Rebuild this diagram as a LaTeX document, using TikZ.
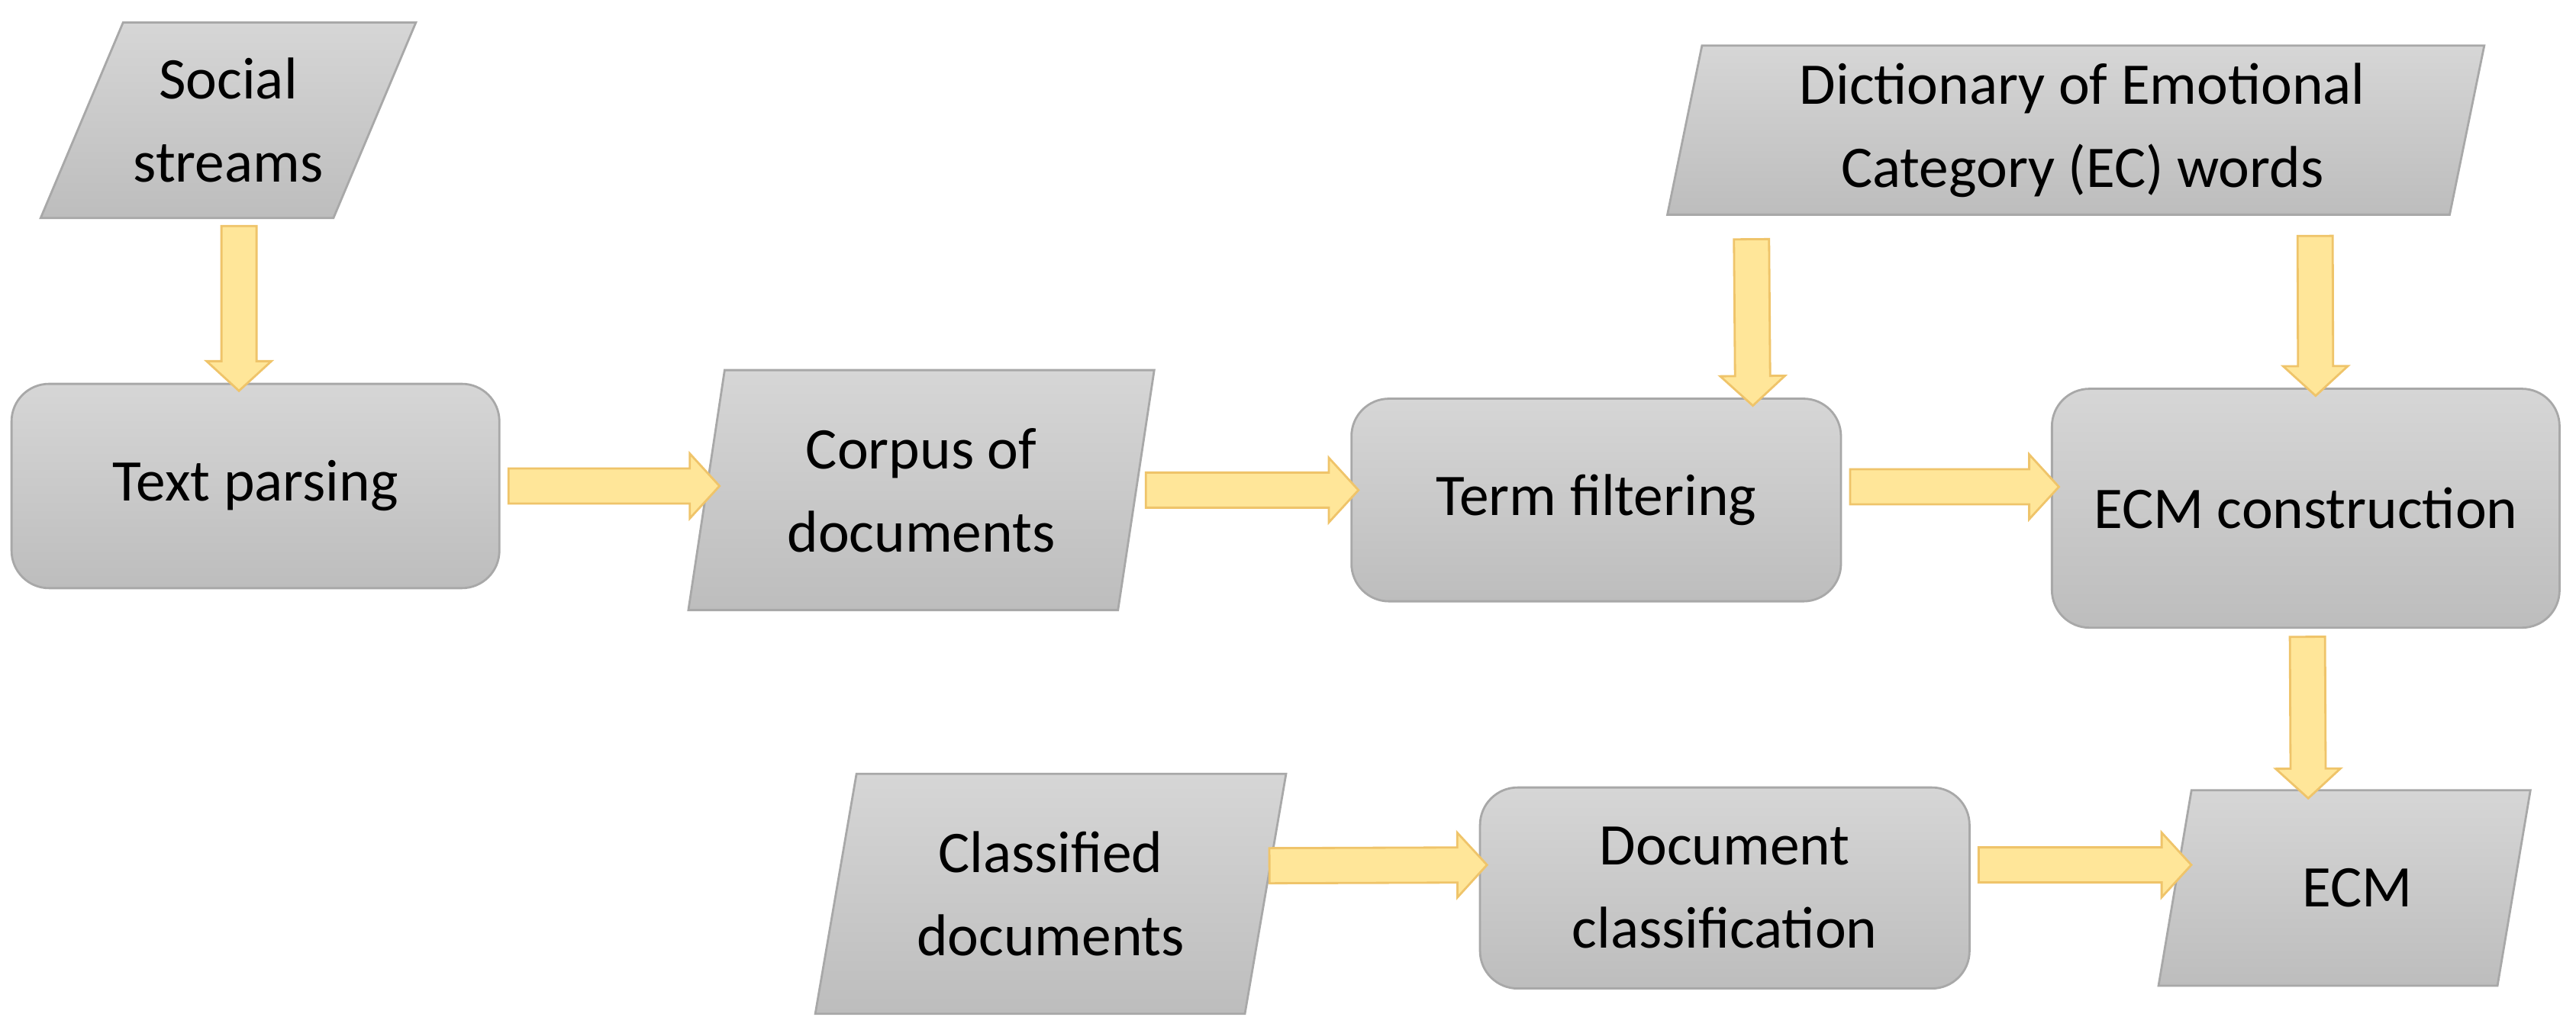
\documentclass[tikz,border=0pt]{standalone}
\usepackage{fontspec}
\setmainfont{Carlito}
\usetikzlibrary{calc,shapes.arrows}
\definecolor{gtop}{HTML}{D6D6D6}
\definecolor{gbot}{HTML}{BDBDBD}
\definecolor{gline}{HTML}{A8A8A8}
\definecolor{afill}{HTML}{FFE699}
\definecolor{aline}{HTML}{EFC46A}
\tikzset{
  box/.style={rounded corners=14pt, top color=gtop, bottom color=gbot, draw=gline, line width=0.8pt,
    align=center, font=\fontsize{22}{31}\selectfont, inner sep=0pt},
  lbl/.style={align=center, font=\fontsize{22}{31}\selectfont, inner sep=0pt},
  para/.style={top color=gtop, bottom color=gbot, draw=gline, line width=0.8pt},
  fatarr/.style={single arrow, fill=afill, draw=aline, line width=0.8pt, inner xsep=0pt,
    inner ysep=0.216cm, minimum width=0.82cm, single arrow head extend=0.194cm,
    single arrow tip angle=95, anchor=center}
}
\newcommand\fat[2]{\path let \p1=#1, \p2=#2, \n2={veclen(\x2-\x1,\y2-\y1)} in
  (\p1) -- (\p2) node[midway,sloped,fatarr,minimum height=\n2]{};}
\newcommand\paral[2]{\path[para] ($(#1.north west)+(#2,0)$) -- (#1.north east) --
  ($(#1.south east)+(-#2,0)$) -- (#1.south west) -- cycle;}
\begin{document}
\begin{tikzpicture}[x=0.02159cm,y=-0.02159cm]
\useasboundingbox (0,0) rectangle (1563,625);
% parallelogram text holders
\node[lbl, minimum width=227*0.02159cm, minimum height=118*0.02159cm] (ss) at (138.5,73) {};
\node[lbl, minimum width=282*0.02159cm, minimum height=145*0.02159cm] (co) at (559,297.5) {};
\node[lbl, minimum width=495*0.02159cm, minimum height=102*0.02159cm] (di) at (1259.5,79) {};
\node[lbl, minimum width=225*0.02159cm, minimum height=118*0.02159cm] (em) at (1422.5,539) {};
\node[lbl, minimum width=285*0.02159cm, minimum height=145*0.02159cm] (cl) at (637.5,542.5) {};
\paral{ss}{50}
\paral{co}{22}
\paral{di}{21}
\paral{em}{20}
\paral{cl}{25}
\node[lbl] at (ss) {Social\\streams};
\node[lbl] at (co) {Corpus of\\documents};
\node[lbl] at ($(di)+(4,0)$) {Dictionary of Emotional\\Category (EC) words};
\node[lbl] at ($(em)+(8,0)$) {ECM};
\node[lbl] at (cl) {Classified\\documents};
% rounded boxes
\node[box, minimum width=296*0.02159cm, minimum height=124*0.02159cm] (tp) at (155,295) {Text parsing};
\node[box, minimum width=297*0.02159cm, minimum height=123*0.02159cm] (tf) at (968.5,303.5) {Term filtering};
\node[box, minimum width=308*0.02159cm, minimum height=145*0.02159cm] (ec) at (1399,308.5) {ECM construction};
\node[box, minimum width=297*0.02159cm, minimum height=122*0.02159cm] (dc) at (1046.5,539) {Document\\classification};
% arrows
\fat{($(ss.south)+(6.5,0)$)}{($(tp.north)+(-10,0)$)}
\fat{(tp.east)}{($(co.west)+(14,-2.5)$)}
\fat{($(co.east)+(-10,0)$)}{($(tf.west)+(0,-6)$)}
\fat{($(tf.east)+(0,-8)$)}{($(ec.west)+(0,-13)$)}
\fat{($(di.south west)+(51,10)$)}{($(tf.north)+(95,0)$)}
\fat{($(di.south west)+(393,8)$)}{($(ec.north)+(6,0)$)}
\fat{($(ec.south)+(1,0)$)}{($(em.north)+(-22,0)$)}
\fat{($(em.west)+(15,-14)$)}{($(dc.east)+(0,-14)$)}
\fat{($(dc.west)+(0,-14)$)}{($(cl.east)+(-15,-17)$)}
\end{tikzpicture}
\end{document}
